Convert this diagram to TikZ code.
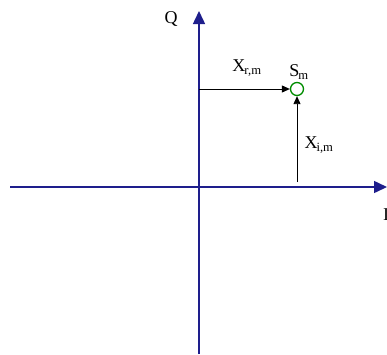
\documentclass[tikz,border=0pt]{standalone}
\usepackage{fontspec}
\setmainfont{Liberation Serif}
\usetikzlibrary{arrows.meta}
\definecolor{axisblue}{RGB}{30,30,140}
\definecolor{ptgreen}{RGB}{0,140,0}
\tikzset{
  axis/.style={draw=axisblue, line width=1.5pt, -{Triangle[length=13pt,width=12pt]}},
  vec/.style={draw=black, line width=0.9pt, -{Triangle[length=8pt,width=7pt]}},
  lbl/.style={inner sep=0pt, font=\fontsize{18}{20}\selectfont},
  pt/.style={circle, draw=ptgreen, line width=1.3pt, minimum size=13pt, inner sep=0pt}
}
\begin{document}
\begin{tikzpicture}[x=1pt,y=-1pt]
\useasboundingbox (0,0) rectangle (387,354);
\coordinate (hstart) at (10,187);
\coordinate (htip) at (387,187);
\coordinate (vbot) at (199,354);
\coordinate (vtip) at (199,11);
\coordinate (rstart) at (199,89);
\coordinate (istart) at (297,182);
\draw[axis] (hstart) -- (htip);
\draw[axis] (vbot) -- (vtip);
\node[pt] (sm) at (297,89) {};
\draw[vec] (rstart) -- (sm.west);
\draw[vec] (istart) -- (sm.south);
\node[lbl] (q) at (171,19) {Q};
\node[lbl] (xr) at (247,68) {X\kern-1pt\textsubscript{r,m}};
\node[lbl] (s) at (299,72) {S\kern-1pt\textsubscript{m}};
\node[lbl] (xi) at (319,145) {X\kern-1pt\textsubscript{i,m}};
\node[lbl, anchor=west] (i) at (383,215) {I};
\end{tikzpicture}
\end{document}
